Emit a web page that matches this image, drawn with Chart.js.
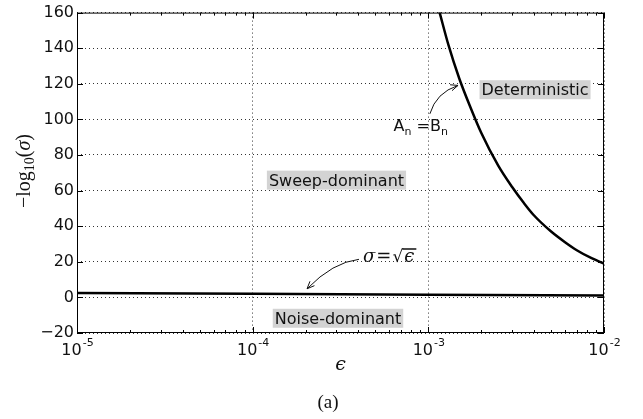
<!DOCTYPE html>
<html>
<head>
<meta charset="utf-8">
<script src="https://cdn.jsdelivr.net/npm/chart.js@4/dist/chart.umd.min.js"></script>
<style>
  html, body { margin: 0; padding: 0; background: #fff; }
  #wrap { width: 643px; height: 419px; position: relative; }
</style>
</head>
<body>
<div id="wrap"><canvas id="chart"></canvas></div>
<script>
// sigma = sqrt(eps) boundary
const noiseEps = [1e-5, 1e-4, 1e-3, 1e-2];
const noiseVal = [2.5, 2.0, 1.5, 1.0];

// A_n = B_n boundary
const detEps = [1.16e-3, 1.3e-3, 1.5e-3, 1.75e-3, 2.0e-3, 2.5e-3, 3.0e-3, 3.5e-3,
                4.0e-3, 5.0e-3, 6.0e-3, 7.0e-3, 8.5e-3, 1e-2];
const detVal = [160, 142, 123, 106, 92.5, 74, 62, 53, 46, 37, 31, 26.5, 22, 19];

const xTicks = [1e-5, 1e-4, 1e-3, 1e-2];
const xTickExp = ['-5', '-4', '-3', '-2'];
const yTicks = [-20, 0, 20, 40, 60, 80, 100, 120, 140, 160];

// region labels: [text, eps, value]
const regions = [
  ['Deterministic', 4.05e-3, 116.4],
  ['Sweep-dominant', 3.0e-4, 65.6],
  ['Noise-dominant', 3.06e-4, -12]
];

function pts(xs, ys) {
  return xs.map((x, i) => ({ x: x, y: ys[i] }));
}

const gridOpts = { color: '#333', lineWidth: 1, drawTicks: false };

const extras = {
  id: 'extras',
  afterDraw(chart) {
    const ctx = chart.ctx;
    const a = chart.chartArea;
    const xs = chart.scales.x, ys = chart.scales.y;
    const px = v => xs.getPixelForValue(v);
    const py = v => ys.getPixelForValue(v);

    ctx.save();
    ctx.strokeStyle = '#000';
    ctx.lineWidth = 1;
    // frame
    ctx.strokeRect(a.left + 0.5, a.top + 0.5, a.right - a.left - 1, a.bottom - a.top - 1);

    // tick marks, all four sides, pointing in
    ctx.beginPath();
    xTicks.forEach(v => {
      const x = Math.round(px(v)) + 0.5;
      ctx.moveTo(x, a.bottom); ctx.lineTo(x, a.bottom - 6);
      ctx.moveTo(x, a.top); ctx.lineTo(x, a.top + 6);
    });
    for (let d = -5; d < -2; d++) {
      for (let m = 2; m < 10; m++) {
        const x = Math.round(px(m * Math.pow(10, d))) + 0.5;
        ctx.moveTo(x, a.bottom); ctx.lineTo(x, a.bottom - 3);
        ctx.moveTo(x, a.top); ctx.lineTo(x, a.top + 3);
      }
    }
    yTicks.forEach(v => {
      const y = Math.round(py(v)) + 0.5;
      ctx.moveTo(a.left, y); ctx.lineTo(a.left + 6, y);
      ctx.moveTo(a.right, y); ctx.lineTo(a.right - 6, y);
    });
    ctx.stroke();

    // x tick labels 10^n
    ctx.fillStyle = '#111';
    ctx.textBaseline = 'alphabetic';
    ctx.textAlign = 'left';
    xTicks.forEach((v, i) => {
      ctx.font = '16px "DejaVu Sans"';
      const w1 = ctx.measureText('10').width;
      ctx.font = '11px "DejaVu Sans"';
      const w2 = ctx.measureText(xTickExp[i]).width;
      const x0 = px(v) - (w1 + w2) / 2;
      ctx.font = '16px "DejaVu Sans"';
      ctx.fillText('10', x0, 355);
      ctx.font = '11px "DejaVu Sans"';
      ctx.fillText(xTickExp[i], x0 + w1 + 1, 346);
    });

    // x title
    ctx.textAlign = 'center';
    ctx.font = 'italic 19px "DejaVu Serif"';
    ctx.fillText('\u03F5', (a.left + a.right) / 2, 370);
    // caption
    ctx.font = '19px "Liberation Serif"';
    ctx.fillText('(a)', 328, 408);

    // y title: -log10(sigma)
    ctx.save();
    ctx.translate(30, 171);
    ctx.rotate(-Math.PI / 2);
    ctx.textAlign = 'left';
    const parts = [
      ['\u2212log', '20px "Liberation Serif"', 0],
      ['10', '14px "Liberation Serif"', 4],
      ['(', '20px "Liberation Serif"', 0],
      ['\u03C3', 'italic 20px "Liberation Serif"', 0],
      [')', '20px "Liberation Serif"', 0]
    ];
    let tw = 0;
    parts.forEach(p => { ctx.font = p[1]; tw += ctx.measureText(p[0]).width; });
    let cx = -tw / 2;
    parts.forEach(p => {
      ctx.font = p[1];
      ctx.fillText(p[0], cx, p[2]);
      cx += ctx.measureText(p[0]).width;
    });
    ctx.restore();

    // region labels with grey boxes
    ctx.font = '16px "DejaVu Sans"';
    ctx.textAlign = 'center';
    ctx.textBaseline = 'middle';
    regions.forEach(r => {
      const x = px(r[1]), y = py(r[2]);
      const w = ctx.measureText(r[0]).width;
      ctx.fillStyle = '#d3d3d3';
      ctx.fillRect(x - w / 2 - 2, y - 10, w + 4, 19);
      ctx.fillStyle = '#111';
      ctx.fillText(r[0], x, y + 1);
    });

    // curved arrows
    function arrow(p0, c, p2) {
      const x0 = px(p0[0]), y0 = py(p0[1]);
      const xc = px(c[0]), yc = py(c[1]);
      const x2 = px(p2[0]), y2 = py(p2[1]);
      ctx.strokeStyle = '#111';
      ctx.lineWidth = 1;
      ctx.beginPath();
      ctx.moveTo(x0, y0);
      ctx.quadraticCurveTo(xc, yc, x2, y2);
      ctx.stroke();
      const ang = Math.atan2(y2 - yc, x2 - xc);
      const L = 8, s = 0.4;
      ctx.beginPath();
      ctx.moveTo(x2 - L * Math.cos(ang - s), y2 - L * Math.sin(ang - s));
      ctx.lineTo(x2, y2);
      ctx.lineTo(x2 - L * Math.cos(ang + s), y2 - L * Math.sin(ang + s));
      ctx.stroke();
    }
    arrow([1.02e-3, 103.1], [1.107e-3, 115], [1.476e-3, 119.1]);
    arrow([4.03e-4, 21.4], [2.86e-4, 19.75], [2.04e-4, 4.85]);

    // A_n = B_n
    ctx.textBaseline = 'alphabetic';
    ctx.textAlign = 'left';
    ctx.fillStyle = '#111';
    let bx = px(9.4e-4) - 30, by = py(93.7);
    const seq = [['A', 16, 0], ['n', 11, 4], [' =', 16, 0], ['B', 16, 0], ['n', 11, 4]];
    seq.forEach(s => {
      ctx.font = s[1] + 'px "DejaVu Sans"';
      ctx.fillText(s[0], bx, by + s[2]);
      bx += ctx.measureText(s[0]).width;
    });

    // sigma = sqrt(eps)
    let sx = px(4.25e-4), sy = py(19.75);
    ctx.font = 'italic 18px "DejaVu Serif"';
    ctx.fillText('\u03C3', sx, sy);
    sx += ctx.measureText('\u03C3').width + 1;
    ctx.font = '18px "DejaVu Serif"';
    ctx.fillText('=', sx, sy);
    sx += ctx.measureText('=').width + 1;
    ctx.font = '17px "DejaVu Sans"';
    ctx.fillText('\u221A', sx, sy);
    sx += ctx.measureText('\u221A').width;
    ctx.font = 'italic 18px "DejaVu Serif"';
    const ew = ctx.measureText('\u03F5').width;
    ctx.fillText('\u03F5', sx + 1, sy);
    ctx.fillRect(sx - 1, sy - 14, ew + 4, 1.5);

    ctx.restore();
  }
};

new Chart(document.getElementById('chart'), {
  type: 'line',
  data: {
    datasets: [
      {
        data: pts(noiseEps, noiseVal),
        borderColor: '#000', borderWidth: 2.5, pointRadius: 0, tension: 0
      },
      {
        data: pts(detEps, detVal),
        borderColor: '#000', borderWidth: 2.5, pointRadius: 0,
        cubicInterpolationMode: 'monotone', borderJoinStyle: 'round', borderCapStyle: 'round'
      }
    ]
  },
  options: {
    responsive: true,
    maintainAspectRatio: false,
    animation: false,
    layout: { padding: { top: 7, right: 39, left: 0, bottom: 0 } },
    plugins: { legend: { display: false }, tooltip: { enabled: false } },
    scales: {
      x: {
        type: 'logarithmic', min: 1e-5, max: 1e-2,
        afterBuildTicks: s => { s.ticks = xTicks.map(v => ({ value: v })); },
        afterFit: s => { s.height = 86; },
        ticks: { display: false },
        grid: gridOpts,
        border: { display: false, dash: [1, 3] }
      },
      y: {
        type: 'linear', min: -20, max: 160,
        afterBuildTicks: s => { s.ticks = yTicks.map(v => ({ value: v })); },
        afterFit: s => { s.width = 77; },
        ticks: {
          color: '#111', padding: 3,
          font: { family: 'DejaVu Sans', size: 16 },
          callback: v => v < 0 ? '\u2212' + Math.abs(v) : String(v)
        },
        grid: gridOpts,
        border: { display: false, dash: [1, 3] }
      }
    }
  },
  plugins: [extras]
});
</script>
</body>
</html>
